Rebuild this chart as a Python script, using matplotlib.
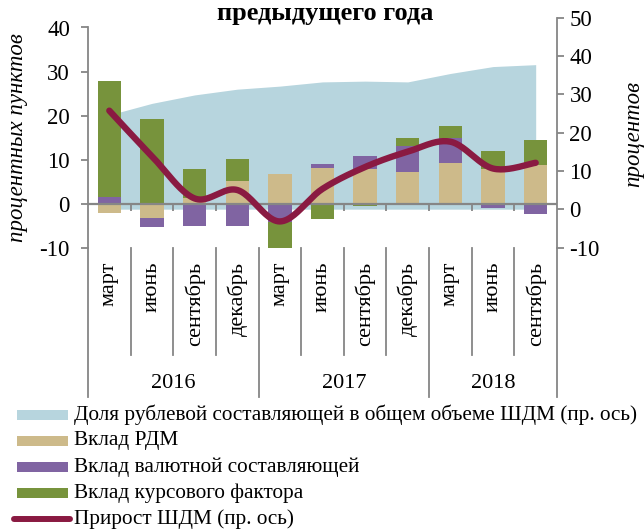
import numpy as np
import matplotlib.pyplot as plt
import matplotlib.transforms as mtransforms
from matplotlib.lines import Line2D
from matplotlib.patches import Rectangle

plt.rcParams['font.family'] = ['Liberation Serif', 'DejaVu Serif']
plt.rcParams['axes.unicode_minus'] = False

# data
months = ['март', 'июнь', 'сентябрь', 'декабрь',
          'март', 'июнь', 'сентябрь', 'декабрь',
          'март', 'июнь', 'сентябрь']
years = ['2016', '2017', '2018']
year_sizes = [4, 4, 3]

rdm = [-2.1, -3.2, 1.2, 5.1, 6.7, 8.0, 7.8, 7.2, 9.3, 7.8, 8.75]
fx_part = [1.4, -2.1, -5.1, -5.1, -4.1, 0.9, 3.0, 5.9, 5.7, -0.95, -2.4]
rate_factor = [26.5, 19.1, 6.6, 5.0, -6.2, -3.6, -0.5, 1.9, 2.6, 4.1, 5.65]
ruble_share = [24.6, 27.6, 29.8, 31.3, 32.1, 33.2, 33.4, 33.2, 35.4, 37.2, 37.7]
growth = [25.7, 13.8, 2.8, 5.0, -3.2, 5.3, 11.0, 15.0, 17.6, 10.6, 12.1]

labels = ['Доля рублевой составляющей в общем объеме ШДМ (пр. ось)',
          'Вклад РДМ',
          'Вклад валютной составляющей',
          'Вклад курсового фактора',
          'Прирост ШДМ (пр. ось)']

c_area = '#B7D5DE'
c_rdm = '#CDBA8A'
c_fx = '#8064A2'
c_rate = '#77933C'
c_line = '#8A1A42'
c_axis = '#868686'


def smooth(xs, ys, n=24):
    # catmull-rom curve through the points, like excel's smoothed line
    pts = np.column_stack([xs, ys]).astype(float)
    padded = np.vstack([pts[0], pts, pts[-1]])
    out = []
    t = np.linspace(0, 1, n, endpoint=False)[:, None]
    for i in range(len(pts) - 1):
        p0, p1, p2, p3 = padded[i:i + 4]
        seg = 0.5 * (2 * p1 + (-p0 + p2) * t
                     + (2 * p0 - 5 * p1 + 4 * p2 - p3) * t ** 2
                     + (-p0 + 3 * p1 - 3 * p2 + p3) * t ** 3)
        out.append(seg)
    out.append(pts[-1:])
    res = np.vstack(out)
    return res[:, 0], res[:, 1]


W, H = 644, 530
L, R, B, T = 88, 557, 247.5, 17.5
fig = plt.figure(figsize=(W / 100, H / 100), dpi=100)
ax = fig.add_axes([L / W, 1 - B / H, (R - L) / W, (B - T) / H])
ax2 = ax.twinx()
ax.set_zorder(ax2.get_zorder() + 1)
ax.patch.set_visible(False)

n = len(months)
x = np.arange(n) + 0.5

# area on the right axis
ax2.fill_between(x, 0, ruble_share, color=c_area, lw=0)

# stacked bars, positives and negatives stacked apart
pos = np.zeros(n)
neg = np.zeros(n)
for vals, col in [(rdm, c_rdm), (fx_part, c_fx), (rate_factor, c_rate)]:
    v = np.array(vals)
    bottom = np.where(v >= 0, pos, neg)
    ax.bar(x, v, 0.55, bottom=bottom, color=col, lw=0, zorder=3)
    pos += np.where(v >= 0, v, 0)
    neg += np.where(v < 0, v, 0)

ax.axhline(0, color=c_axis, lw=1.6, zorder=4)
ax.vlines(np.arange(1, n), -1.6, 0, color=c_axis, lw=1.3, zorder=4)

# growth line on the right axis scale, drawn above the bars
sx, sy = smooth(x, growth)
ax.plot(sx, sy, color=c_line, lw=4.6, solid_capstyle='round',
        transform=ax2.transData, zorder=5)

ax.set_xlim(0, n)
ax.set_ylim(-10, -10 + (B - T) / 4.4)
ax2.set_ylim(-10, 50)
ax.set_xticks([])

for s in ['top', 'bottom', 'right']:
    ax.spines[s].set_visible(False)
for s in ['top', 'bottom', 'left']:
    ax2.spines[s].set_visible(False)
ax.spines['left'].set_bounds(-10, 40)
ax.spines['left'].set_color(c_axis)
ax.spines['left'].set_linewidth(1.3)
ax2.spines['right'].set_color(c_axis)
ax2.spines['right'].set_linewidth(1.3)

ax.set_yticks(range(-10, 41, 10))
ax2.set_yticks(range(-10, 51, 10))
ax.tick_params(axis='y', direction='out', length=5, width=1.3, color=c_axis,
               labelsize=16.5, pad=8)
ax2.tick_params(axis='y', direction='out', length=5, width=1.3, color=c_axis,
                labelsize=16.5, pad=4)

# category axis below the plot
trans = mtransforms.blended_transform_factory(ax.transData, fig.transFigure)
for k in range(n + 1):
    y_end = 397 if k in (0, 4, 8, 11) else 355
    ax.plot([k, k], [1 - B / H, 1 - y_end / H], color=c_axis, lw=1.3,
            transform=trans, clip_on=False)
for i, m in enumerate(months):
    ax.text(i + 0.5, 1 - 262 / H, m, transform=trans, rotation=90,
            ha='center', va='top', fontsize=16)
start = 0
for yr, size in zip(years, year_sizes):
    ax.text(start + size / 2, 1 - 384 / H, yr, transform=trans,
            ha='center', va='center', fontsize=16)
    start += size

fig.text(325 / W, 1 - 2 / H, 'предыдущего года', fontweight='bold',
         ha='center', va='top', fontsize=19)
fig.text(18 / W, 1 - 138 / H, 'процентных пунктов', rotation=90,
         style='italic', ha='center', va='center', fontsize=16.5)
fig.text(634 / W, 1 - 134 / H, 'процентов', rotation=90,
         style='italic', ha='center', va='center', fontsize=16.5)

# legend drawn by hand
rows = [415, 441, 467, 493, 519]
for y, col in zip(rows[:4], [c_area, c_rdm, c_fx, c_rate]):
    fig.add_artist(Rectangle((17 / W, 1 - (y + 5) / H), 51 / W, 10 / H,
                             transform=fig.transFigure, color=col, lw=0))
fig.add_artist(Line2D([14 / W, 70 / W], [1 - rows[4] / H] * 2,
                      transform=fig.transFigure, color=c_line, lw=4.3,
                      solid_capstyle='round'))
for y, lab in zip(rows, labels):
    fig.text(74 / W, 1 - y / H, lab, ha='left', va='center', fontsize=15.3)

fig.savefig('out.png', dpi=100)
